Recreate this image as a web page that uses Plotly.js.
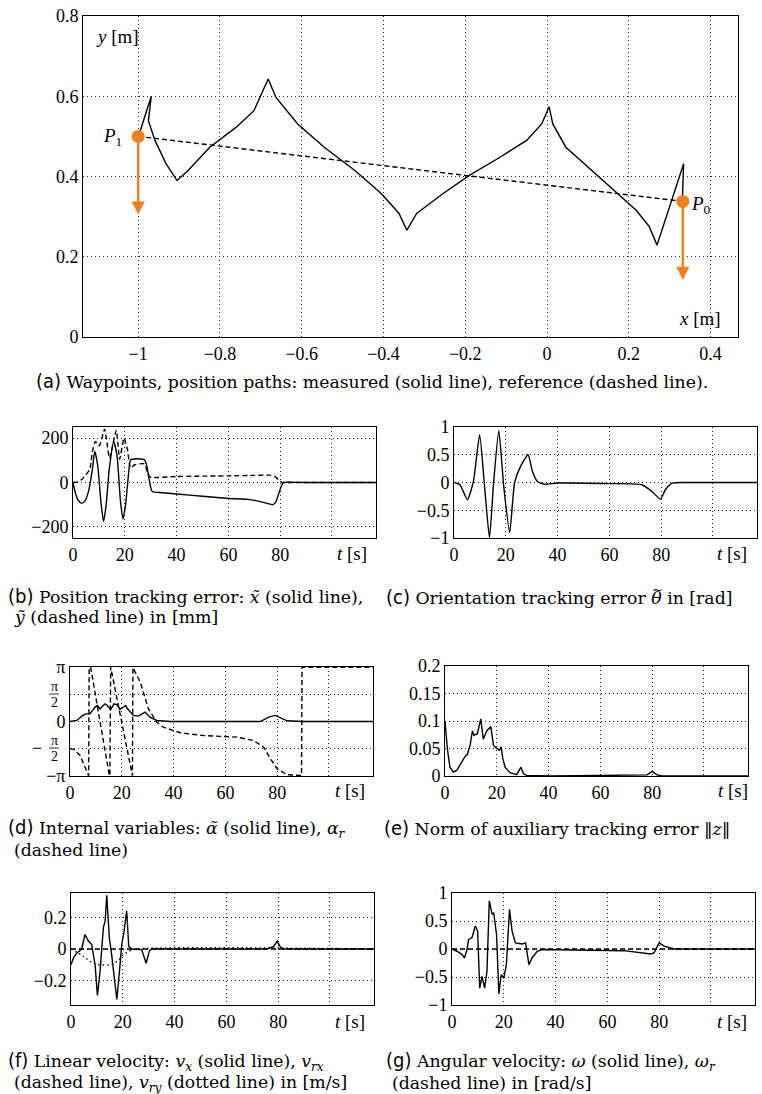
<!DOCTYPE html>
<html><head><meta charset="utf-8">
<script src="https://cdn.plot.ly/plotly-3.0.1.min.js"></script>
<style>body{margin:0;background:#fff}#plot{width:762px;height:1094px}</style>
</head><body><div id="plot"></div>
<script>
// ---------- DATA ----------
// (a) position paths
const pathX = [-1, -0.968, -0.975, -0.959, -0.932, -0.905, -0.878, -0.825, -0.76, -0.717, -0.682, -0.663, -0.61, -0.545, -0.47, -0.405, -0.362, -0.343, -0.319, -0.255, -0.19, -0.115, -0.05, -0.013, 0.005, 0.014, 0.046, 0.1, 0.165, 0.218, 0.25, 0.269, 0.334, 0.331];
const pathY = [0.498, 0.6, 0.539, 0.49, 0.432, 0.39, 0.415, 0.473, 0.523, 0.564, 0.643, 0.597, 0.531, 0.473, 0.415, 0.357, 0.308, 0.266, 0.308, 0.357, 0.403, 0.448, 0.49, 0.531, 0.574, 0.531, 0.473, 0.424, 0.366, 0.316, 0.275, 0.229, 0.432, 0.341];
const refX = [-1, 0.332];
const refY = [0.5, 0.338];
const wpX = [-1, 0.332];
const wpY = [0.5, 0.338];
const wpNames = ["P1", "P0"];
const arrowTipY = [0.305, 0.142];

// (b) position tracking error [mm]
const bSolidT = [0,1,2,3.2,4.5,6,7.5,8.4,9.5,10.8,11.8,12.8,14,15.7,17,18.3,19.3,20.3,21.3,22.2,23.1,25,27.6,28.5,29.3,30.6,33.4,40,50,59,69,74.6,77.2,78.4,79.7,81,82.3,90,117];
const bSolidY = [0,-50,-80,-93,-85,-40,60,140,80,-90,-176,-100,60,185,120,-80,-165,-100,20,102,105,107,102,75,20,-41,-45,-52,-62,-71,-78,-93,-100,-86,-41,-3,1,0,0];
const bDashT = [0,2,3.5,5,6.5,7.5,8.7,10.2,12.2,14.1,16.7,18,19.7,21,22.2,23.8,27.6,28.7,29.8,40,60,70,76,78,79.3,80.5,90,117];
const bDashY = [0,3,15,35,60,140,185,165,240,110,235,105,200,150,65,80,84,45,24,27,30,32,33,28,12,2,0,0];

// (c) orientation tracking error [rad]
const cT = [0,2.3,5.2,7.5,9.9,11.8,13.7,15.3,17.3,19.2,21.5,23.4,25.7,28.6,30.3,32.2,34.8,40,60,72.5,76.4,79.7,81.6,84.2,90,117];
const cY = [0,-0.04,-0.31,0.02,0.86,-0.07,-1.0,0,0.94,-0.07,-0.9,0,0.29,0.5,0.2,0.02,-0.03,-0.01,-0.02,-0.04,-0.16,-0.3,-0.13,-0.01,0,0];

// (d) internal variables
const dSolidT = [0,2.6,5.2,6.4,7.7,9.7,10.6,11.6,13.5,14.4,15.7,17,18.3,19.3,21.5,22.2,24.5,26.4,29,30.9,33.5,38.7,73.5,76.7,79.3,81.2,83.8,90,117];
const dSolidY = [0,0.06,0.38,0.44,0.44,0.83,0.92,0.73,1.02,0.92,0.69,1.02,0.96,0.69,0.92,0.73,0.35,0.31,0.54,0.25,0.06,0,0,0.25,0.35,0.23,0.04,0,0];
const dDashT = [0,1.5,3.9,6.4,7.2,7.4,8.0,15.2,15.4,15.7,23.9,24.1,24.3,27.1,30.3,33.5,36.1,42.6,51.6,64.5,70.9,74.8,77.4,80,83.8,89.4,89.6,117];
const dDashY = [-1.571,-1.61,-1.96,-2.92,-3.12,3.14,3.1,-3.12,-3.12,3.14,-3.12,-3.12,3.1,2.28,0.73,-0.04,-0.33,-0.65,-0.81,-0.9,-1.1,-1.48,-2.15,-2.73,-3.07,-3.11,3.13,3.13];

// (e) norm of auxiliary tracking error
const eT = [0,0.9,1.9,3.2,4.5,6.4,7.7,8.6,9.7,10.6,11.2,12.5,13.8,14.8,16.1,17.7,18.7,20,21,21.7,22.3,23.2,25.1,27.7,28.8,29.3,30.3,31.6,40.6,67.7,78,80,81.9,83.8,117];
const eY = [0.1,0.05,0.016,0.007,0.01,0.026,0.035,0.039,0.056,0.082,0.074,0.077,0.104,0.067,0.082,0.09,0.056,0.05,0.047,0.053,0.032,0.016,0.006,0.0024,0.013,0.016,0.004,0.001,0,0.001,0.002,0.0085,0.002,0,0];

// (f) linear velocity [m/s]
const fVxT = [0,0.9,2.2,4.1,5.4,6.7,8,9.3,10.2,11.2,12.5,13.2,13.8,14.8,15.7,16.6,17.7,18.7,19.6,20.5,21.5,22.3,23.5,27.3,29,30.3,31.2,75.7,78.3,79.6,80.9,82.1,117];
const fVxY = [-0.1,-0.058,-0.026,0,0.092,0.05,0.028,-0.1,-0.295,-0.144,0.135,0.18,0.34,0.07,-0.037,-0.166,-0.32,-0.144,0.028,0.114,0.243,0.017,0,-0.004,-0.09,-0.01,0,0,0.017,0.05,0.011,0,0];
const fVrxT = [0,117];
const fVrxY = [0,0];
const fVryT = [0,4.8,8.6,11.2,15,17.7,20.2,22.8,25.4,117];
const fVryY = [0,-0.047,-0.09,-0.1,-0.1,-0.08,-0.037,-0.01,0,0];

// (g) angular velocity [rad/s]
const gWT = [0,1.9,3.9,4.8,5.8,6.4,7.7,9,9.9,10.7,11.6,12.6,13.5,14.4,15.5,16.1,17.2,18.1,19,20,21,22.2,23.2,24.5,27.1,28.4,29.7,30.9,32.9,34.8,66.4,76.7,78,80,81.9,83.8,85.8,117];
const gWY = [0,-0.04,-0.1,-0.16,-0.01,0.17,0.2,0.41,0.32,-0.7,-0.49,-0.7,-0.4,0.86,0.62,0.65,0.26,-0.8,-0.46,-0.52,-0.28,0.71,0.32,0.11,0.09,0.11,-0.28,-0.16,-0.04,-0.01,-0.03,-0.09,-0.07,0.11,0.05,0.02,0,0];
const gWrT = [0,117];
const gWrY = [0,0];

// tick labels
const tTicks = [0,20,40,60,80,100];
const tTickText = ["0","20","40","60","80",""];

// ---------- LAYOUT HELPERS ----------
const W = 762, H = 1094;
const px = x => x / W;
const py = y => 1 - y / H;
const FONT = "'Liberation Serif', serif";
const CFONT = "'DejaVu Serif', serif";
const BLACK = "#000";
const ORANGE = "#F07F22";

function axis(x0, x1, range, tickvals, ticktext, anchor) {
  return {
    domain: [px(x0), px(x1)], range: range, anchor: anchor,
    tickmode: "array", tickvals: tickvals, ticktext: ticktext,
    showline: true, mirror: true, linecolor: BLACK, linewidth: 1,
    showgrid: true, gridcolor: "#222", griddash: "1px,3px", gridwidth: 1,
    zeroline: false, ticks: "", fixedrange: true,
    tickfont: {family: FONT, size: 18, color: BLACK}
  };
}
function yaxis(t0, t1, range, tickvals, ticktext, anchor) {
  const a = axis(0, 1, range, tickvals, ticktext, anchor);
  a.domain = [py(t1), py(t0)];
  return a;
}

const layout = {
  width: W, height: H, autosize: false,
  margin: {l: 0, r: 0, t: 0, b: 0},
  paper_bgcolor: "#fff", plot_bgcolor: "#fff",
  showlegend: false,
  font: {family: FONT, color: BLACK},
  xaxis:  axis(83, 738, [-1.135, 0.467], [-1,-0.8,-0.6,-0.4,-0.2,0,0.2,0.4], ["−1","−0.8","−0.6","−0.4","−0.2","0","0.2","0.4"], "y"),
  yaxis:  yaxis(16, 337, [0, 0.8], [0,0.2,0.4,0.6,0.8], ["0","0.2","0.4","0.6","0.8"], "x"),
  xaxis2: axis(73, 376, [0, 117], tTicks, tTickText, "y2"),
  yaxis2: yaxis(427, 538, [-250, 250], [-200,0,200], ["−200","0","200"], "x2"),
  xaxis3: axis(454, 757, [0, 117], tTicks, tTickText, "y3"),
  yaxis3: yaxis(427, 538, [-1, 1], [-1,-0.5,0,0.5,1], ["−1","−0.5","0","0.5","1"], "x3"),
  xaxis4: axis(70, 373, [0, 117], tTicks, tTickText, "y4"),
  yaxis4: yaxis(667, 776, [-Math.PI, Math.PI], [-Math.PI,-Math.PI/2,0,Math.PI/2,Math.PI], ["−π"," ","0"," ","π"], "x4"),
  xaxis5: axis(445, 748, [0, 117], tTicks, tTickText, "y5"),
  yaxis5: yaxis(666, 776, [0, 0.2], [0,0.05,0.1,0.15,0.2], ["0","0.05","0.1","0.15","0.2"], "x5"),
  xaxis6: axis(71, 374, [0, 117], tTicks, tTickText, "y6"),
  yaxis6: yaxis(893, 1005, [-0.355, 0.355], [-0.2,0,0.2], ["−0.2","0","0.2"], "x6"),
  xaxis7: axis(452, 755, [0, 117], tTicks, tTickText, "y7"),
  yaxis7: yaxis(893, 1005, [-1, 1], [-1,-0.5,0,0.5,1], ["−1","−0.5","0","0.5","1"], "x7"),
  annotations: [], shapes: []
};

function note(x, y, text, size, xanchor, family) {
  layout.annotations.push({xref: "paper", yref: "paper", x: px(x), y: py(y), text: text,
    showarrow: false, xanchor: xanchor || "center", yanchor: "middle",
    font: {family: family || FONT, size: size || 19, color: BLACK}});
}
// axis labels inside panel (a)
note(117, 36, "<i>y</i> [m]", 19);
note(700, 318, "<i>x</i> [m]", 19);
note(112, 137, "<i>P</i><sub>1</sub>", 19);
note(701, 205, "<i>P</i><sub>0</sub>", 19);
// t [s] labels
note(352, 553, "<i>t</i> [s]", 19);
note(732, 553, "<i>t</i> [s]", 19);
note(350, 790, "<i>t</i> [s]", 19);
note(733, 790, "<i>t</i> [s]", 19);
note(350, 1021, "<i>t</i> [s]", 19);
note(732, 1021, "<i>t</i> [s]", 19);
// pi/2 fraction tick labels in (d)
function frac(cx, cy, neg) {
  layout.annotations.push({xref: "paper", yref: "paper", x: px(cx), y: py(cy - 8), text: "π",
    showarrow: false, xanchor: "center", yanchor: "middle", font: {family: FONT, size: 14, color: BLACK}});
  layout.annotations.push({xref: "paper", yref: "paper", x: px(cx), y: py(cy + 8), text: "2",
    showarrow: false, xanchor: "center", yanchor: "middle", font: {family: FONT, size: 14, color: BLACK}});
  layout.shapes.push({type: "line", xref: "paper", yref: "paper", x0: px(cx - 5), x1: px(cx + 5), y0: py(cy), y1: py(cy), line: {color: BLACK, width: 0.8}});
  if (neg) note(cx - 17, cy, "−", 18);
}
frac(54, 694, false);
frac(54, 748, true);

// captions
const LBL = s => '<span style="font-family:\'DejaVu Sans Condensed\', \'DejaVu Sans\';font-size:20px">' + s + '</span>';
const CS = 17.3;
function cap(x, y, text) { note(x, y, text, CS, "left", CFONT); }
cap(34, 381, LBL("(a)") + " Waypoints, position paths: measured (solid line), reference (dashed line).");
cap(6, 596, LBL("(b)") + " Position tracking error: <i>x̃</i> (solid line),");
cap(12, 617, "<i>ỹ</i> (dashed line) in [mm]");
cap(384, 597, LBL("(c)") + " Orientation tracking error <i>θ</i> in [rad]");
cap(6, 828, LBL("(d)") + " Internal variables: <i>α̃</i> (solid line), <i>α</i><sub><i>r</i></sub>");
cap(12, 850, "(dashed line)");
cap(382, 828, LBL("(e)") + " Norm of auxiliary tracking error ‖<i>z</i>‖");
cap(6, 1061, LBL("(f)") + " Linear velocity: <i>v</i><sub><i>x</i></sub> (solid line), <i>v</i><sub><i>rx</i></sub>");
cap(12, 1083, "(dashed line), <i>v</i><sub><i>ry</i></sub> (dotted line) in [m/s]");
cap(384, 1061, LBL("(g)") + " Angular velocity: <i>ω</i> (solid line), <i>ω</i><sub><i>r</i></sub>");
cap(390, 1083, "(dashed line) in [rad/s]");

// arrows from waypoints
for (let i = 0; i < wpX.length; i++) {
  layout.annotations.push({xref: "x", yref: "y", axref: "x", ayref: "y",
    x: wpX[i], y: arrowTipY[i], ax: wpX[i], ay: wpY[i], text: "",
    showarrow: true, arrowhead: 2, arrowsize: 1.1, arrowwidth: 2.4, arrowcolor: ORANGE});
}

const LW = 1.4;
const DASH = "5px,3px";
const data = [
  {x: pathX, y: pathY, xaxis: "x", yaxis: "y", mode: "lines", line: {color: BLACK, width: LW}},
  {x: refX, y: refY, xaxis: "x", yaxis: "y", mode: "lines", line: {color: BLACK, width: LW, dash: DASH}},
  {x: wpX, y: wpY, text: wpNames, xaxis: "x", yaxis: "y", mode: "markers", marker: {color: ORANGE, size: 13}},
  {x: bDashT, y: bDashY, xaxis: "x2", yaxis: "y2", mode: "lines", line: {color: BLACK, width: LW, dash: DASH, shape: "spline", smoothing: 0.5}},
  {x: bSolidT, y: bSolidY, xaxis: "x2", yaxis: "y2", mode: "lines", line: {color: BLACK, width: LW, shape: "spline", smoothing: 0.6}},
  {x: cT, y: cY, xaxis: "x3", yaxis: "y3", mode: "lines", line: {color: BLACK, width: LW, shape: "spline", smoothing: 0.5}},
  {x: dDashT, y: dDashY, xaxis: "x4", yaxis: "y4", mode: "lines", line: {color: BLACK, width: LW, dash: DASH}},
  {x: dSolidT, y: dSolidY, xaxis: "x4", yaxis: "y4", mode: "lines", line: {color: BLACK, width: LW}},
  {x: eT, y: eY, xaxis: "x5", yaxis: "y5", mode: "lines", line: {color: BLACK, width: LW}},
  {x: fVrxT, y: fVrxY, xaxis: "x6", yaxis: "y6", mode: "lines", line: {color: BLACK, width: LW, dash: DASH}},
  {x: fVryT, y: fVryY, xaxis: "x6", yaxis: "y6", mode: "lines", line: {color: BLACK, width: LW, dash: "1.5px,3px", shape: "spline"}},
  {x: fVxT, y: fVxY, xaxis: "x6", yaxis: "y6", mode: "lines", line: {color: BLACK, width: LW}},
  {x: gWrT, y: gWrY, xaxis: "x7", yaxis: "y7", mode: "lines", line: {color: BLACK, width: LW, dash: DASH}},
  {x: gWT, y: gWY, xaxis: "x7", yaxis: "y7", mode: "lines", line: {color: BLACK, width: LW}}
];

Plotly.newPlot("plot", data, layout, {staticPlot: true, displayModeBar: false}).then(gd => {
  // place a tilde accent above the theta in caption (c)
  try {
    const svg = gd.querySelector(".main-svg").getBoundingClientRect();
    const texts = gd.querySelectorAll(".annotation-text");
    for (const t of texts) {
      const s = t.textContent;
      const i = s.indexOf("θ");
      if (i < 0 || s.indexOf("Orientation") < 0) continue;
      const ext = t.getExtentOfChar(i);
      const ctm = t.getScreenCTM();
      const p = new DOMPoint(ext.x + ext.width * 0.6, ext.y + 1).matrixTransform(ctm);
      const X = p.x - svg.left, Y = p.y - svg.top;
      const anns = gd.layout.annotations.slice();
      anns.push({xref: "paper", yref: "paper", x: px(X), y: py(Y), text: "~", showarrow: false,
        xanchor: "center", yanchor: "middle", font: {family: CFONT, size: 13, color: BLACK}});
      Plotly.relayout(gd, {annotations: anns});
    }
  } catch (e) {}
});
</script>
</body></html>
